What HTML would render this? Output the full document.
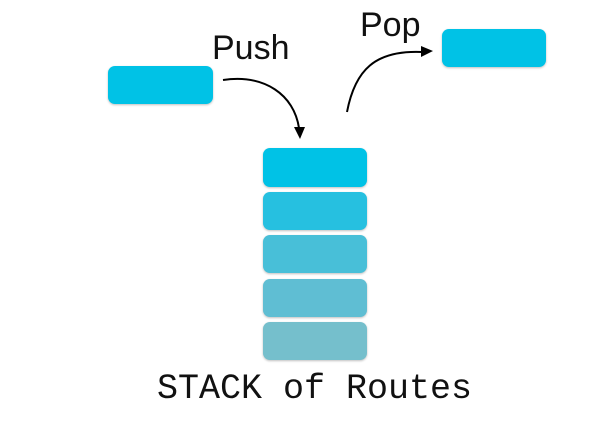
<!DOCTYPE html>
<html><head><style>
body{margin:0;width:614px;height:421px;background:#fff;position:relative;overflow:hidden}
.b{position:absolute;border-radius:7px;box-shadow:0 1px 2px rgba(0,0,0,.25)}
.t{position:absolute;font-family:"Liberation Sans",sans-serif;color:#111;line-height:1}
</style></head><body>
<div class="b" style="left:108px;top:66px;width:105px;height:38px;background:#00c2e6"></div>
<div class="b" style="left:442px;top:29px;width:104px;height:38px;background:#00c2e6"></div>
<div class="b" style="left:263px;top:148px;width:104px;height:39px;background:#00c2e6"></div>
<div class="b" style="left:263px;top:192px;width:104px;height:38px;background:#26c0e0"></div>
<div class="b" style="left:263px;top:235px;width:104px;height:38px;background:#48bfd8"></div>
<div class="b" style="left:263px;top:279px;width:104px;height:38px;background:#5fbed3"></div>
<div class="b" style="left:263px;top:322px;width:104px;height:38px;background:#75bfcc"></div>
<div class="t" style="left:212px;top:31px;font-size:34px">Push</div>
<div class="t" style="left:360px;top:8px;font-size:34px">Pop</div>
<div class="t" style="left:157px;top:372px;font-size:35px;font-family:'Liberation Mono',monospace">STACK of Routes</div>
<svg width="614" height="421" style="position:absolute;left:0;top:0">
<path d="M223 80 C265 74 294 95 299 128" fill="none" stroke="#000" stroke-width="2"/>
<polygon points="294,127 305,127 300,139" fill="#000"/>
<path d="M347 112 C355 70 375 50 422 52" fill="none" stroke="#000" stroke-width="2"/>
<polygon points="421,46 421,57 433,51" fill="#000"/>
</svg>
</body></html>
